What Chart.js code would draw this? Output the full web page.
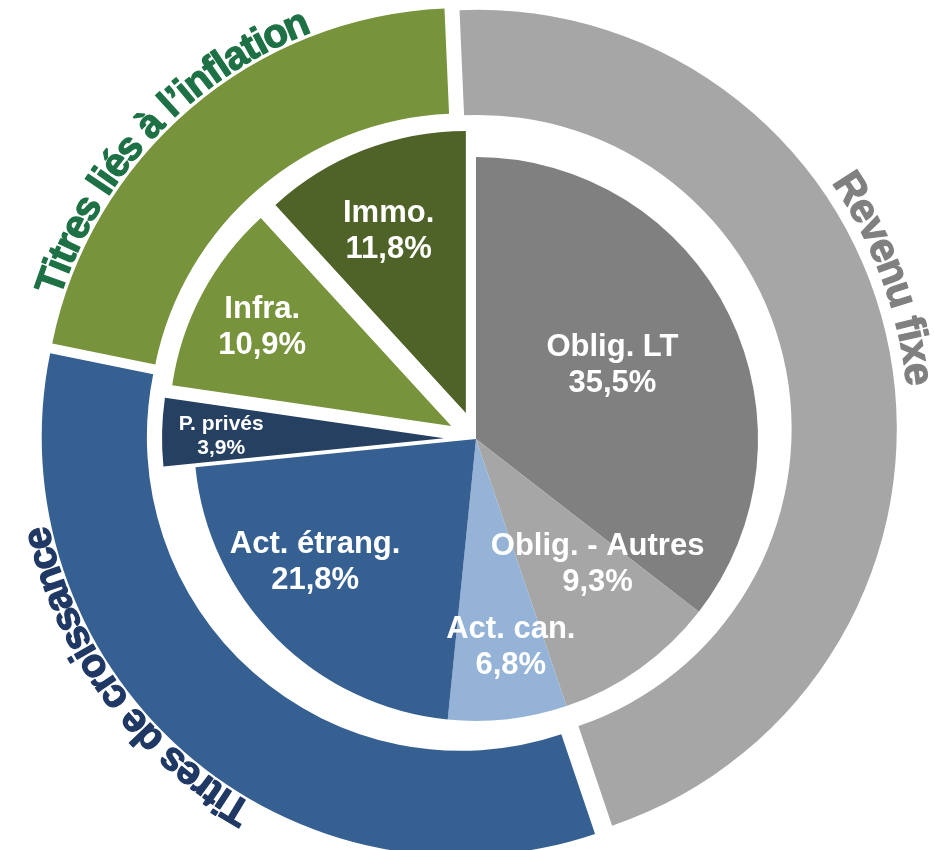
<!DOCTYPE html>
<html lang="fr">
<head>
<meta charset="utf-8">
<title>Répartition de l'actif</title>
<script src="https://cdn.jsdelivr.net/npm/chart.js@4.4.1/dist/chart.umd.min.js"></script>
<style>
  html, body { margin: 0; padding: 0; background: #ffffff; }
  #wrap { position: relative; width: 934px; height: 850px; overflow: hidden; }
  #wrap canvas { position: absolute; left: 0; top: 0; }
</style>
</head>
<body>
<div id="wrap">
  <canvas id="outerChart" width="934" height="850"></canvas>
  <canvas id="innerChart" width="934" height="850"></canvas>
</div>
<script>
// Data
const outerLabels = ['Revenu fixe', 'Titres de croissance', 'Titres liés à l’inflation'];
const outerValues = [45.5, 33.4, 21.1];
const innerLabels = ['Oblig. LT', 'Oblig. - Autres', 'Act. can.', 'Act. étrang.', 'P. privés', 'Infra.', 'Immo.'];
const innerValues = [35.5, 9.3, 6.8, 21.8, 3.9, 10.9, 11.8];

// Styles
const outerColors = ['#A6A6A6', '#366092', '#77933C'];
const outerTextColors = ['#808080', '#1F3864', '#1E7145'];
const outerExplode = [12, 8, 5];
// [gap from ring, angle shift in degrees, font size, letter squeeze] for the curved ring titles
const outerTextPos = [[12, -9.6, 41, 0.95], [3, 12.3, 40, 0.92], [4, -6, 40, 0.92]];

const innerColors = ['#808080', '#A6A6A6', '#95B3D7', '#366092', '#254061', '#77933C', '#4F6228'];
const innerExplode = [0, 0, 0, 0, 32, 28, 28];
// [fraction of radius, angle shift in degrees] for each slice label
const innerLabelPos = [[0.55, -2.3], [0.62, -8.6], [0.75, -3], [0.72, 7.4], [0.79, -0.6], [0.755, -0.5], [0.70, -1.8]];

const FONT = '"Liberation Sans", Arial, sans-serif';

function formatPct(v) {
    return v.toFixed(1).replace('.', ',') + '%';
}

// Pull slices out along their middle angle
function makeExplodePlugin(distances) {
    return {
        id: 'explode',
        afterDatasetsUpdate(chart) {
            const meta = chart.getDatasetMeta(0);
            meta.data.forEach((arc, i) => {
                const d = distances[i] || 0;
                const mid = (arc.startAngle + arc.endAngle) / 2;
                arc.x += Math.cos(mid) * d;
                arc.y += Math.sin(mid) * d;
            });
        }
    };
}

// Write text clockwise along a circle, letter tops pointing outward
function drawArcText(ctx, text, cx, cy, r, centerAngle, squeeze) {
    const chars = Array.from(text);
    const widths = chars.map(ch => ctx.measureText(ch).width * squeeze);
    const total = widths.reduce((s, w) => s + w, 0);
    let a = centerAngle - total / 2 / r;
    chars.forEach((ch, k) => {
        const w = widths[k];
        const ang = a + w / 2 / r;
        ctx.save();
        ctx.translate(cx + r * Math.cos(ang), cy + r * Math.sin(ang));
        ctx.rotate(ang + Math.PI / 2);
        ctx.fillText(ch, 0, 0);
        ctx.strokeText(ch, 0, 0);
        ctx.restore();
        a += w / r;
    });
}

const ringTextPlugin = {
    id: 'ringText',
    afterDatasetsDraw(chart) {
        const ctx = chart.ctx;
        const meta = chart.getDatasetMeta(0);
        ctx.save();
        ctx.textAlign = 'center';
        ctx.textBaseline = 'alphabetic';
        ctx.lineWidth = 1.2;
        ctx.lineJoin = 'round';
        meta.data.forEach((arc, i) => {
            const [gap, shiftDeg, size, squeeze] = outerTextPos[i];
            const mid = (arc.startAngle + arc.endAngle) / 2 + shiftDeg * Math.PI / 180;
            ctx.font = 'bold ' + size + 'px ' + FONT;
            ctx.fillStyle = outerTextColors[i];
            ctx.strokeStyle = outerTextColors[i];
            drawArcText(ctx, outerLabels[i], arc.x, arc.y, arc.outerRadius + gap, mid, squeeze);
        });
        ctx.restore();
    }
};

const sliceLabelPlugin = {
    id: 'sliceLabels',
    afterDatasetsDraw(chart) {
        const ctx = chart.ctx;
        const meta = chart.getDatasetMeta(0);
        ctx.save();
        ctx.fillStyle = '#FFFFFF';
        ctx.textAlign = 'center';
        ctx.textBaseline = 'middle';
        meta.data.forEach((arc, i) => {
            const frac = innerLabelPos[i][0];
            const shift = innerLabelPos[i][1] * Math.PI / 180;
            const ang = (arc.startAngle + arc.endAngle) / 2 + shift;
            const r = arc.outerRadius * frac;
            const x = arc.x + Math.cos(ang) * r;
            const y = arc.y + Math.sin(ang) * r;
            const small = innerValues[i] < 5;
            const size = small ? 21 : 31;
            const lh = small ? 24 : 36;
            ctx.font = 'bold ' + size + 'px ' + FONT;
            ctx.fillText(innerLabels[i], x, y - lh / 2);
            ctx.fillText(formatPct(innerValues[i]), x, y + lh / 2);
        });
        ctx.restore();
    }
};

const commonOptions = {
    responsive: false,
    animation: false,
    devicePixelRatio: 1,
    events: [],
    plugins: {
        legend: { display: false },
        tooltip: { enabled: false }
    }
};

// Outer ring: asset classes
new Chart(document.getElementById('outerChart'), {
    type: 'doughnut',
    data: {
        labels: outerLabels,
        datasets: [{
            data: outerValues,
            backgroundColor: outerColors,
            borderWidth: 0
        }]
    },
    options: Object.assign({}, commonOptions, {
        rotation: -2.5,
        radius: 419,
        cutout: '74.9%',
        layout: { padding: { left: 0, right: 2, top: 12, bottom: 0 } }
    }),
    plugins: [makeExplodePlugin(outerExplode), ringTextPlugin]
});

// Inner pie: detailed allocation
new Chart(document.getElementById('innerChart'), {
    type: 'pie',
    data: {
        labels: innerLabels,
        datasets: [{
            data: innerValues,
            backgroundColor: innerColors,
            borderWidth: 0
        }]
    },
    options: Object.assign({}, commonOptions, {
        rotation: 0,
        radius: 282,
        layout: { padding: { left: 18, right: 0, top: 28, bottom: 0 } }
    }),
    plugins: [makeExplodePlugin(innerExplode), sliceLabelPlugin]
});
</script>
</body>
</html>
